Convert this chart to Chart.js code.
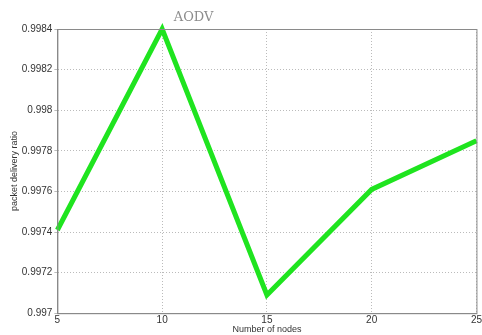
<!DOCTYPE html>
<html>
<head>
<meta charset="utf-8">
<script src="https://cdn.jsdelivr.net/npm/chart.js@4/dist/chart.umd.min.js"></script>
<style>
  html, body { margin: 0; padding: 0; background: #fff; overflow: hidden; }
  #wrap { width: 483px; height: 335px; position: relative; }
</style>
</head>
<body>
<div id="wrap"><canvas id="pdr"></canvas></div>
<script>
// data
const nodes = [5, 10, 15, 20, 25];
const aodvRatio = [0.99741, 0.9984, 0.99709, 0.99761, 0.99785];
const yTicks = [0.997, 0.9972, 0.9974, 0.9976, 0.9978, 0.998, 0.9982, 0.9984];
const xTicks = [5, 10, 15, 20, 25];

// box around plot + title on top
const frame = {
  id: 'frame',
  afterDraw(chart) {
    const c = chart.ctx, a = chart.chartArea;
    c.save();
    c.strokeStyle = '#8a8a8a';
    c.lineWidth = 1;
    c.strokeRect(a.left + 0.5, a.top + 0.5, a.right - a.left, a.bottom - a.top);
    c.fillStyle = '#8c8c8c';
    c.font = '13px "DejaVu Serif", "Liberation Serif", serif';
    c.textAlign = 'center';
    c.textBaseline = 'bottom';
    c.fillText('AODV', a.left + (a.right - a.left) * 0.325, a.top - 5);
    c.restore();
  }
};

new Chart(document.getElementById('pdr'), {
  type: 'line',
  data: {
    datasets: [{
      label: 'AODV',
      data: nodes.map((n, i) => ({ x: n, y: aodvRatio[i] })),
      borderColor: '#1fe41f',
      borderWidth: 5,
      pointRadius: 0,
      tension: 0,
      borderJoinStyle: 'miter',
      clip: false
    }]
  },
  options: {
    responsive: true,
    maintainAspectRatio: false,
    animation: false,
    layout: { padding: { top: 29, right: 0, left: 9, bottom: 0 } },
    plugins: { legend: { display: false }, tooltip: { enabled: false } },
    scales: {
      x: {
        type: 'linear',
        min: 5, max: 25,
        afterBuildTicks: axis => { axis.ticks = xTicks.map(v => ({ value: v })); },
        ticks: { color: '#333', font: { family: 'Arial, "Liberation Sans", sans-serif', size: 10 }, padding: 1, maxRotation: 0 },
        grid: { color: '#bbb', drawTicks: false },
        border: { display: true, color: '#8a8a8a', dash: [1, 2] },
        title: { display: true, text: 'Number of nodes', color: '#333', font: { family: 'Arial, "Liberation Sans", sans-serif', size: 9 }, padding: { top: -3, bottom: 0 } }
      },
      y: {
        min: 0.997, max: 0.9984,
        afterBuildTicks: axis => { axis.ticks = yTicks.map(v => ({ value: v })); },
        ticks: {
          color: '#333', padding: 2,
          font: { family: 'Arial, "Liberation Sans", sans-serif', size: 10 },
          callback: v => String(Number(v.toFixed(4)))
        },
        grid: { color: '#bbb', drawTicks: true, tickLength: 3 },
        border: { display: true, color: '#8a8a8a', dash: [1, 2] },
        title: { display: true, text: 'packet delivery ratio', color: '#333', font: { family: 'Arial, "Liberation Sans", sans-serif', size: 9 }, padding: { top: 0, bottom: 0 } }
      }
    }
  },
  plugins: [frame]
});
</script>
</body>
</html>
